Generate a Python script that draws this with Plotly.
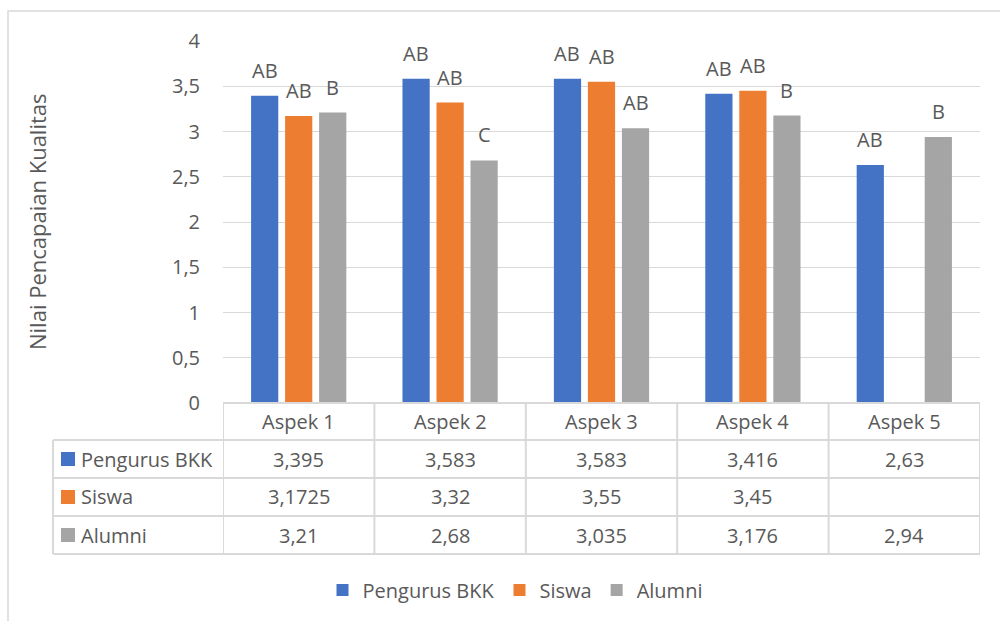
import plotly.graph_objects as go

# Data
aspects = ["Aspek 1", "Aspek 2", "Aspek 3", "Aspek 4", "Aspek 5"]
series_names = ["Pengurus BKK", "Siswa", "Alumni"]
pengurus = [3.395, 3.583, 3.583, 3.416, 2.63]
siswa = [3.1725, 3.32, 3.55, 3.45, None]
alumni = [3.21, 2.68, 3.035, 3.176, 2.94]
labels_pengurus = ["AB", "AB", "AB", "AB", "AB"]
labels_siswa = ["AB", "AB", "AB", "AB", None]
labels_alumni = ["B", "C", "AB", "B", "B"]
y_ticks = [0, 0.5, 1, 1.5, 2, 2.5, 3, 3.5, 4]

series = [pengurus, siswa, alumni]
series_labels = [labels_pengurus, labels_siswa, labels_alumni]
colors = ["#4472C4", "#ED7D31", "#A5A5A5"]

FONT = "Open Sans"
TXT = "#595959"
GRID = "#D9D9D9"
FS = 20

W, H = 1000, 621
L, R, T, B = 223, 20, 41, 218
PH = H - T - B
PW = W - L - R

BARGAP = 0.326
GROUPGAP = 0.2


def py(p):
    """pixel row -> paper y"""
    return (H - B - p) / PH


def px(p):
    """pixel column -> paper x"""
    return (p - L) / PW


def txt(**kw):
    base = dict(showarrow=False, xanchor="center", yanchor="middle",
                font=dict(family=FONT, size=FS, color=TXT))
    base.update(kw)
    return base


fig = go.Figure()
for name, vals, col in zip(series_names, series, colors):
    fig.add_trace(go.Bar(name=name, x=aspects, y=vals, marker_color=col,
                         marker_line_width=0))

annotations = []
shapes = []

# letter labels above bars
slot = (1 - BARGAP) / 3
for si, (vals, labs) in enumerate(zip(series, series_labels)):
    for ci, (v, lab) in enumerate(zip(vals, labs)):
        if v is None or lab is None:
            continue
        annotations.append(txt(x=ci + (si - 1) * slot, y=v, xref="x", yref="y",
                               text=lab, yanchor="bottom", yshift=10))

# data table under the plot
row_tops = [403, 440, 478, 516, 554]
line = dict(color=GRID, width=2)
shapes.append(dict(type="line", xref="x", yref="paper", x0=-0.5, x1=len(aspects) - 0.5,
                   y0=py(row_tops[0]), y1=py(row_tops[0]), line=line))
for r in row_tops[1:]:
    shapes.append(dict(type="line", xref="paper", yref="paper", x0=px(53), x1=1,
                       y0=py(r), y1=py(r), line=line))
for k in range(len(aspects) + 1):
    shapes.append(dict(type="line", xref="x", yref="paper", x0=k - 0.5, x1=k - 0.5,
                       y0=py(row_tops[0]), y1=py(row_tops[-1]), line=line))
shapes.append(dict(type="line", xref="paper", yref="paper", x0=px(53), x1=px(53),
                   y0=py(row_tops[1]), y1=py(row_tops[-1]), line=line))

for ci, a in enumerate(aspects):
    annotations.append(txt(x=ci, y=py((row_tops[0] + row_tops[1]) / 2), xref="x",
                           yref="paper", text=a))

for si, (name, vals, col) in enumerate(zip(series_names, series, colors)):
    yc = (row_tops[si + 1] + row_tops[si + 2]) / 2
    shapes.append(dict(type="rect", xref="paper", yref="paper", x0=px(61), x1=px(75),
                       y0=py(yc - 7), y1=py(yc + 7), fillcolor=col, line=dict(width=0)))
    annotations.append(txt(x=px(79), y=py(yc), xref="paper", yref="paper", text=name,
                           xanchor="left"))
    for ci, v in enumerate(vals):
        if v is None:
            continue
        annotations.append(txt(x=ci, y=py(yc), xref="x", yref="paper",
                               text=str(v).replace(".", ",")))

# y axis title
annotations.append(txt(x=px(37), y=py(222), xref="paper", yref="paper",
                       text="Nilai Pencapaian Kualitas", textangle=-90,
                       font=dict(family=FONT, size=22, color=TXT)))

# outer chart border
shapes.append(dict(type="rect", xref="paper", yref="paper", x0=px(8), x1=px(1010),
                   y0=py(640), y1=py(11), line=dict(color=GRID, width=1.5), layer="below"))

fig.update_layout(
    width=W, height=H, autosize=False,
    margin=dict(l=L, r=R, t=T, b=B),
    paper_bgcolor="white", plot_bgcolor="white",
    barmode="group", bargap=BARGAP, bargroupgap=GROUPGAP,
    separators=",.",
    font=dict(family=FONT, size=FS, color=TXT),
    xaxis=dict(range=[-0.5, len(aspects) - 0.5], showticklabels=False, showgrid=False,
               zeroline=False, showline=False, ticks=""),
    yaxis=dict(range=[0, 4], tickvals=y_ticks, showgrid=True, gridcolor=GRID, gridwidth=1,
               zeroline=False, showline=False, ticks="", ticklabelstandoff=22,
               tickfont=dict(family=FONT, size=FS, color=TXT)),
    legend=dict(orientation="h", x=px(515), xanchor="center", y=py(590), yanchor="middle",
                font=dict(family=FONT, size=FS, color=TXT), itemwidth=30,
                bgcolor="rgba(0,0,0,0)"),
    shapes=shapes, annotations=annotations,
)

fig.write_html("out.html")
